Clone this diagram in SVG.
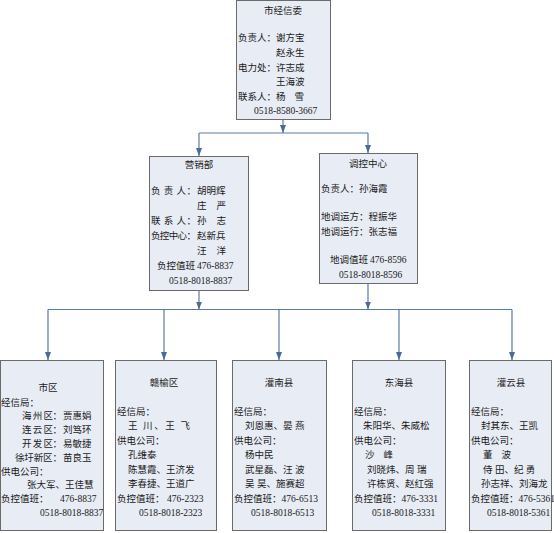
<svg xmlns="http://www.w3.org/2000/svg" width="554" height="533" viewBox="0 0 554 533">
<defs>
<marker id="ah" viewBox="0 0 8 6" refX="8" refY="3" markerWidth="8" markerHeight="6" markerUnits="userSpaceOnUse" orient="auto">
<path d="M0,0 L8,3 L0,6 z" fill="#4a6a98"/>
</marker>
</defs>
<style>
.box{fill:#e8ecf5;stroke:#6a6a6a;stroke-width:1}
text{font-family:"Liberation Serif","Noto Sans CJK SC",serif;font-size:9.5px;fill:#1a1a1a}
.t{text-anchor:middle}
.c{fill:none;stroke:#5c7ba3;stroke-width:1.2}
.ca{fill:none;stroke:#5c7ba3;stroke-width:1.2;marker-end:url(#ah)}
</style>
<rect width="554" height="533" fill="#ffffff"/>
<g id="connectors">
<line class="ca" x1="283" y1="119.5" x2="283" y2="133"/>
<line class="c" x1="199" y1="133" x2="368" y2="133"/>
<line class="ca" x1="199" y1="133" x2="199" y2="156"/>
<line class="ca" x1="368" y1="133" x2="368" y2="153"/>
<line class="ca" x1="199" y1="290.5" x2="199" y2="309.5"/>
<line class="ca" x1="368" y1="283.5" x2="368" y2="309.5"/>
<line class="c" x1="48" y1="309.5" x2="512" y2="309.5"/>
<line class="ca" x1="48" y1="309.5" x2="48" y2="360"/>
<line class="ca" x1="164" y1="309.5" x2="164" y2="360"/>
<line class="ca" x1="279" y1="309.5" x2="279" y2="360"/>
<line class="ca" x1="399" y1="309.5" x2="399" y2="360"/>
<line class="ca" x1="512" y1="309.5" x2="512" y2="360"/>
</g>
<g id="n-top">
<rect class="box" x="236.5" y="0.5" width="94" height="119"/>
<text class="t" x="283" y="14">市经信委</text>
<text x="238" y="41">负责人：谢方宝</text>
<text x="276" y="56">赵永生</text>
<text x="238" y="70.5">电力处：许志成</text>
<text x="276" y="85">王海波</text>
<text x="238" y="99.5">联系人：</text><text x="276" y="99.5" textLength="28" lengthAdjust="spacing">杨 雪</text>
<text x="254" y="114">0518-8580-3667</text>
</g>
<g id="n-yx">
<rect class="box" x="149.5" y="156.5" width="99" height="134"/>
<text class="t" x="199" y="167.5">营销部</text>
<text x="151" y="193.5" textLength="45" lengthAdjust="spacing">负 责 人：</text><text x="197" y="193.5">胡明辉</text>
<text x="197" y="208.5" textLength="29" lengthAdjust="spacing">庄 严</text>
<text x="151" y="223.5" textLength="45" lengthAdjust="spacing">联 系 人：</text><text x="197" y="223.5" textLength="29" lengthAdjust="spacing">孙 志</text>
<text x="151" y="238.5" textLength="45" lengthAdjust="spacing">负控中心：</text><text x="197" y="238.5">赵新兵</text>
<text x="197" y="253.5" textLength="29" lengthAdjust="spacing">汪 洋</text>
<text x="157" y="269">负控值班</text><text x="197" y="269">476-8837</text>
<text x="169" y="284">0518-8018-8837</text>
</g>
<g id="n-tk">
<rect class="box" x="319.5" y="153.5" width="98" height="130"/>
<text class="t" x="368" y="166.5">调控中心</text>
<text x="321" y="191.5">负责人：孙海霞</text>
<text x="321" y="220">地调运方：程振华</text>
<text x="321" y="234.5">地调运行：张志福</text>
<text x="330" y="263">地调值班</text><text x="370" y="263">476-8596</text>
<text x="339" y="278">0518-8018-8596</text>
</g>
<g id="n-sq">
<rect class="box" x="0.5" y="360.5" width="103" height="170"/>
<text class="t" x="48" y="391">市区</text>
<text x="1" y="405.5">经信局：</text>
<text x="22" y="419.3" textLength="40" lengthAdjust="spacing">海 州 区：</text><text x="63" y="419.3">贾惠娟</text>
<text x="22" y="433.1" textLength="40" lengthAdjust="spacing">连 云 区：</text><text x="63" y="433.1">刘笃环</text>
<text x="22" y="446.9" textLength="40" lengthAdjust="spacing">开 发 区：</text><text x="63" y="446.9">易敏捷</text>
<text x="15" y="460.7" textLength="47" lengthAdjust="spacing">徐圩新区：</text><text x="63" y="460.7">苗良玉</text>
<text x="1" y="474.5">供电公司：</text>
<text x="27" y="488.3">张大军、王佳慧</text>
<text x="1" y="502.1">负控值班：</text><text x="60" y="502.1">476-8837</text>
<text x="40" y="516">0518-8018-8837</text>
</g>
<g id="n-gy">
<rect class="box" x="115.5" y="360.5" width="101" height="170"/>
<text class="t" x="164" y="385.5">赣榆区</text>
<text x="117" y="414.5">经信局：</text>
<text x="128" y="429" textLength="62" lengthAdjust="spacing">王 川、王 飞</text>
<text x="117" y="443.5">供电公司：</text>
<text x="128" y="458">孔维泰</text>
<text x="128" y="472.5">陈慧霞、王济发</text>
<text x="128" y="487">李春捷、王道广</text>
<text x="117" y="501.5">负控值班：</text><text x="167" y="501.5">476-2323</text>
<text x="139" y="516">0518-8018-2323</text>
</g>
<g id="n-gn">
<rect class="box" x="232.5" y="360.5" width="94" height="170"/>
<text class="t" x="279" y="385.5">灌南县</text>
<text x="234" y="414.5">经信局：</text>
<text x="245" y="429">刘恩惠、晏 燕</text>
<text x="234" y="443.5">供电公司：</text>
<text x="245" y="458">杨中民</text>
<text x="245" y="472.5">武星磊、汪 波</text>
<text x="245" y="487">吴 昊、施赛超</text>
<text x="234" y="501.5">负控值班：476-6513</text>
<text x="251" y="516">0518-8018-6513</text>
</g>
<g id="n-dh">
<rect class="box" x="352.5" y="360.5" width="93" height="170"/>
<text class="t" x="399" y="385.5">东海县</text>
<text x="354" y="414.5">经信局：</text>
<text x="363" y="429">朱阳华、朱威松</text>
<text x="354" y="443.5">供电公司：</text>
<text x="365" y="458" textLength="28" lengthAdjust="spacing">沙 峰</text>
<text x="367" y="472.5">刘晓炜、周 瑞</text>
<text x="367" y="487">许栋贤、赵红强</text>
<text x="354" y="501.5">负控值班：476-3331</text>
<text x="372" y="516">0518-8018-3331</text>
</g>
<g id="n-gyx">
<rect class="box" x="469.5" y="360.5" width="82" height="170"/>
<text class="t" x="511" y="385.5">灌云县</text>
<text x="471" y="414.5">经信局：</text>
<text x="481" y="429">封其东、王凯</text>
<text x="471" y="443.5">供电公司：</text>
<text x="483" y="458" textLength="28" lengthAdjust="spacing">董 波</text>
<text x="483" y="472.5">侍 田、纪 勇</text>
<text x="481" y="487">孙志祥、刘海龙</text>
<text x="471" y="501.5">负控值班：476-5361</text>
<text x="487" y="516">0518-8018-5361</text>
</g>
</svg>
